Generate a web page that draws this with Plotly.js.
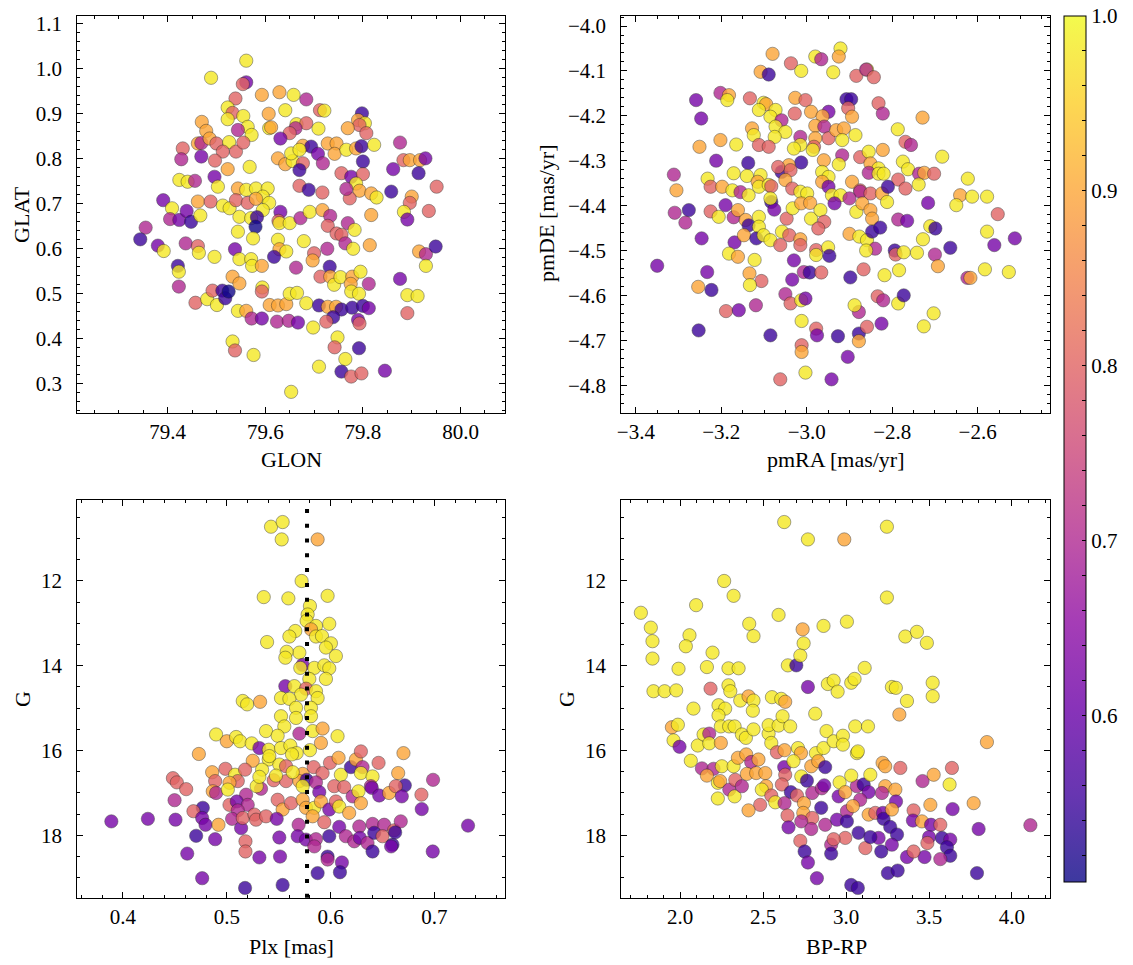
<!DOCTYPE html>
<html><head><meta charset="utf-8">
<script src="https://cdn.plot.ly/plotly-3.0.1.min.js"></script>
<style>html,body{margin:0;padding:0;background:#fff}#chart{width:1133px;height:965px}</style>
</head><body><div id="chart"></div>
<script>
// ---------- Panel 1: GLON vs GLAT ----------
const glon = [
79.561,79.489,79.561,79.554,79.593,79.629,79.658,79.684,79.539,79.523,
79.533,79.555,79.523,79.564,79.572,79.470,79.479,79.544,79.607,79.641,
79.608,79.612,79.664,79.684,79.712,79.721,79.709,79.662,79.650,79.631,
79.798,79.790,79.804,79.793,79.769,79.807,79.462,79.469,79.486,79.500,
79.526,79.540,79.555,79.513,79.431,79.428,79.469,79.497,79.523,79.568,
79.677,79.694,79.708,79.718,79.728,79.746,79.742,79.766,79.786,79.797,
79.823,79.626,79.641,79.656,79.653,79.670,79.677,79.670,79.800,79.876,
79.883,79.896,79.917,79.928,79.862,79.914,79.951,79.424,79.441,79.456,
79.496,79.503,79.756,79.776,79.800,79.786,79.793,79.773,79.766,79.817,
79.828,79.858,79.900,79.896,79.544,79.561,79.581,79.605,79.595,79.670,
79.689,79.717,79.391,79.409,79.405,79.424,79.439,79.448,79.467,79.462,
79.488,79.513,79.527,79.540,79.564,79.581,79.608,79.595,79.547,79.571,
79.583,79.580,79.631,79.627,79.629,79.650,79.672,79.691,79.717,79.733,
79.728,79.769,79.783,79.746,79.756,79.764,79.780,79.814,79.817,79.884,
79.891,79.935,79.355,79.344,79.380,79.392,79.437,79.462,79.464,79.496,
79.544,79.575,79.538,79.547,79.571,79.573,79.593,79.626,79.629,79.643,
79.618,79.679,79.700,79.697,79.663,79.727,79.732,79.713,79.733,79.741,
79.754,79.778,79.775,79.795,79.776,79.792,79.812,79.421,79.423,79.423,
79.457,79.481,79.492,79.501,79.512,79.518,79.525,79.533,79.547,79.594,
79.593,79.544,79.561,79.572,79.593,79.609,79.626,79.643,79.650,79.665,
79.624,79.648,79.667,79.684,79.698,79.710,79.728,79.745,79.756,79.739,
79.725,79.778,79.800,79.812,79.790,79.793,79.891,79.876,79.891,79.912,
79.915,79.929,79.949,79.929,79.533,79.538,79.576,79.748,79.742,79.792,
79.764,79.710,79.756,79.776,79.797,79.845,79.653];
const glat = [
1.017,0.979,0.969,0.965,0.941,0.947,0.941,0.931,0.933,0.913,
0.901,0.894,0.887,0.870,0.852,0.881,0.861,0.863,0.899,0.907,
0.867,0.869,0.876,0.878,0.907,0.906,0.866,0.867,0.856,0.844,
0.900,0.885,0.878,0.874,0.867,0.856,0.833,0.834,0.844,0.833,
0.836,0.815,0.835,0.815,0.822,0.798,0.804,0.795,0.776,0.781,
0.828,0.826,0.810,0.789,0.833,0.833,0.810,0.819,0.822,0.827,
0.830,0.800,0.787,0.794,0.811,0.819,0.789,0.774,0.793,0.835,
0.796,0.796,0.796,0.800,0.776,0.767,0.737,0.752,0.748,0.750,
0.759,0.737,0.767,0.759,0.765,0.744,0.728,0.711,0.732,0.722,
0.713,0.726,0.715,0.701,0.733,0.730,0.733,0.733,0.715,0.739,
0.730,0.724,0.707,0.689,0.665,0.663,0.683,0.659,0.673,0.704,
0.704,0.695,0.689,0.707,0.701,0.710,0.701,0.685,0.670,0.667,
0.669,0.648,0.681,0.661,0.656,0.656,0.667,0.681,0.685,0.672,
0.650,0.656,0.641,0.633,0.630,0.611,0.599,0.607,0.674,0.681,
0.664,0.683,0.646,0.620,0.606,0.594,0.611,0.605,0.590,0.581,
0.637,0.622,0.598,0.576,0.576,0.561,0.561,0.619,0.598,0.593,
0.581,0.616,0.589,0.573,0.557,0.599,0.559,0.537,0.537,0.519,
0.536,0.537,0.521,0.548,0.504,0.499,0.521,0.561,0.548,0.515,
0.479,0.487,0.506,0.474,0.506,0.489,0.504,0.537,0.522,0.513,
0.504,0.461,0.461,0.444,0.444,0.474,0.473,0.476,0.499,0.501,
0.437,0.439,0.435,0.478,0.424,0.473,0.470,0.470,0.464,0.447,
0.437,0.468,0.472,0.467,0.441,0.433,0.456,0.532,0.496,0.494,
0.593,0.587,0.604,0.561,0.393,0.373,0.363,0.402,0.380,0.378,
0.354,0.337,0.326,0.315,0.322,0.328,0.281];
const prob1 = [
.98,.98,.62,.8,.9,.9,.98,.7,.8,.98,
.8,.98,.98,.98,.98,.9,.9,.7,.9,.98,
.98,.9,.98,.8,.8,.98,.98,.7,.8,.62,
.55,.9,.98,.8,.9,.8,.9,.7,.9,.8,
.98,.8,.8,.8,.8,.7,.62,.8,.9,.98,
.9,.55,.62,.7,.9,.9,.9,.98,.9,.55,
.98,.9,.9,.98,.98,.98,.8,.55,.55,.7,
.8,.9,.9,.62,.62,.55,.8,.98,.98,.7,
.62,.98,.8,.62,.8,.98,.9,.8,.7,.9,
.98,.55,.9,.8,.9,.98,.98,.98,.98,.8,
.55,.8,.62,.98,.7,.62,.62,.55,.98,.9,
.8,.98,.98,.8,.8,.9,.98,.98,.98,.98,
.55,.51,.62,.8,.98,.98,.7,.98,.9,.7,
.8,.7,.98,.8,.8,.7,.98,.9,.9,.98,
.62,.8,.7,.55,.62,.98,.7,.8,.98,.98,
.98,.98,.62,.98,.98,.98,.9,.98,.9,.98,
.55,.98,.8,.9,.7,.7,.55,.8,.9,.98,
.98,.9,.9,.98,.98,.98,.7,.55,.98,.7,
.8,.98,.8,.98,.55,.55,.51,.9,.9,.98,
.8,.98,.9,.7,.62,.9,.9,.9,.98,.98,
.7,.7,.62,.98,.98,.55,.9,.9,.55,.55,
.8,.55,.55,.62,.62,.8,.8,.62,.98,.98,
.9,.7,.55,.98,.98,.8,.98,.98,.8,.55,
.98,.98,.55,.8,.8,.62,.98];

// ---------- Panel 2: pmRA vs pmDE ----------
const pmra = [
-2.921,-2.925,-2.980,-2.966,-3.080,-3.037,-3.013,-2.938,-3.108,-3.089,
-2.884,-2.859,-2.861,-2.843,-3.259,-3.202,-3.182,-3.186,-3.247,-3.133,
-3.101,-3.095,-3.073,-3.112,-3.085,-3.059,-3.027,-3.003,-2.990,-3.028,
-2.949,-2.963,-2.907,-2.896,-2.903,-2.894,-2.832,-2.822,-2.729,-2.787,
-3.128,-3.124,-3.073,-3.050,-3.075,-3.015,-3.015,-2.980,-2.959,-2.949,
-2.980,-2.931,-2.913,-2.917,-2.886,-3.251,-3.202,-3.165,-3.112,-3.089,
-3.030,-2.983,-2.986,-2.917,-2.875,-2.855,-2.822,-2.769,-2.756,-2.683,
-3.212,-3.137,-3.013,-2.960,-2.925,-2.851,-2.832,-2.775,-2.763,-3.311,
-3.305,-3.232,-3.171,-3.140,-3.108,-3.059,-3.042,-3.038,-3.067,-2.964,
-2.949,-2.964,-2.855,-2.832,-2.820,-2.737,-2.725,-2.702,-2.786,-2.769,
-2.738,-2.623,-3.225,-3.198,-3.174,-3.155,-3.136,-3.115,-3.112,-3.089,
-3.083,-3.050,-3.034,-3.015,-2.999,-2.949,-2.941,-2.921,-2.894,-2.875,
-2.875,-2.851,-2.824,-2.810,-2.812,-2.641,-2.613,-2.578,-2.650,-2.553,
-2.716,-3.309,-3.276,-3.284,-3.225,-3.206,-3.190,-3.171,-3.161,-3.143,
-3.136,-3.112,-3.112,-3.083,-3.076,-3.085,-3.047,-3.033,-3.013,-2.992,
-2.990,-2.968,-2.959,-2.973,-2.935,-2.900,-2.884,-2.870,-2.851,-2.847,
-2.786,-2.765,-2.711,-2.699,-2.578,-2.561,-2.513,-3.246,-3.169,-3.182,
-3.161,-3.147,-3.118,-3.101,-3.085,-3.058,-3.041,-3.015,-3.015,-3.062,
-2.978,-2.978,-2.950,-2.947,-2.900,-2.877,-2.859,-2.847,-2.828,-2.840,
-2.861,-2.794,-2.792,-2.773,-2.742,-2.728,-2.700,-2.664,-3.350,-3.233,
-3.223,-3.254,-3.189,-3.159,-3.119,-3.253,-3.134,-3.122,-3.106,-3.133,
-3.030,-3.034,-3.007,-2.993,-2.966,-3.050,-3.038,-3.013,-3.003,-3.012,
-2.978,-2.976,-3.085,-2.927,-2.878,-2.878,-2.859,-2.825,-2.878,-2.888,
-2.898,-2.867,-2.818,-2.784,-2.834,-2.821,-2.786,-2.773,-2.703,-2.726,
-2.693,-2.624,-2.617,-2.583,-2.527,-3.012,-3.012,-2.904,-3.003,-3.062,
-2.942];
const pmde = [
-4.050,-4.068,-4.068,-4.074,-4.062,-4.083,-4.100,-4.103,-4.102,-4.108,
-4.111,-4.097,-4.097,-4.114,-4.165,-4.149,-4.154,-4.165,-4.206,-4.161,
-4.171,-4.174,-4.187,-4.187,-4.202,-4.210,-4.160,-4.165,-4.191,-4.195,
-4.191,-4.201,-4.163,-4.163,-4.183,-4.202,-4.172,-4.195,-4.204,-4.230,
-4.228,-4.243,-4.224,-4.236,-4.247,-4.247,-4.265,-4.222,-4.224,-4.250,
-4.250,-4.232,-4.228,-4.254,-4.243,-4.269,-4.254,-4.264,-4.265,-4.269,
-4.273,-4.269,-4.276,-4.288,-4.292,-4.280,-4.276,-4.258,-4.265,-4.291,
-4.300,-4.305,-4.304,-4.299,-4.308,-4.306,-4.317,-4.302,-4.319,-4.331,
-4.366,-4.340,-4.328,-4.334,-4.332,-4.325,-4.310,-4.321,-4.314,-4.325,
-4.336,-4.347,-4.327,-4.329,-4.329,-4.329,-4.327,-4.329,-4.342,-4.362,
-4.353,-4.340,-4.358,-4.358,-4.366,-4.370,-4.377,-4.347,-4.358,-4.354,
-4.357,-4.343,-4.362,-4.369,-4.373,-4.358,-4.377,-4.377,-4.347,-4.366,
-4.369,-4.373,-4.373,-4.358,-4.392,-4.377,-4.380,-4.380,-4.399,-4.419,
-4.394,-4.416,-4.410,-4.438,-4.413,-4.425,-4.399,-4.426,-4.410,-4.432,
-4.444,-4.425,-4.447,-4.392,-4.409,-4.384,-4.429,-4.406,-4.395,-4.394,
-4.429,-4.410,-4.436,-4.451,-4.395,-4.384,-4.414,-4.395,-4.410,-4.429,
-4.431,-4.434,-4.446,-4.451,-4.458,-4.488,-4.473,-4.473,-4.482,-4.507,
-4.514,-4.466,-4.473,-4.466,-4.477,-4.458,-4.466,-4.475,-4.488,-4.488,
-4.499,-4.510,-4.493,-4.512,-4.463,-4.469,-4.477,-4.458,-4.449,-4.496,
-4.500,-4.500,-4.509,-4.504,-4.505,-4.475,-4.509,-4.494,-4.534,-4.548,
-4.588,-4.581,-4.635,-4.633,-4.622,-4.678,-4.551,-4.521,-4.568,-4.577,
-4.522,-4.565,-4.548,-4.549,-4.549,-4.597,-4.618,-4.611,-4.607,-4.657,
-4.674,-4.689,-4.689,-4.691,-4.685,-4.702,-4.670,-4.663,-4.637,-4.622,
-4.560,-4.542,-4.555,-4.544,-4.602,-4.611,-4.618,-4.600,-4.640,-4.669,
-4.535,-4.561,-4.561,-4.542,-4.548,-4.711,-4.726,-4.737,-4.772,-4.787,
-4.787];
const prob2 = [
.98,.9,.98,.7,.9,.8,.98,.98,.9,.55,
.8,.98,.7,.8,.62,.7,.9,.98,.62,.8,
.98,.9,.98,.98,.98,.7,.9,.8,.9,.8,
.62,.9,.55,.55,.8,.9,.8,.7,.9,.98,
.9,.98,.98,.98,.98,.7,.98,.9,.7,.8,
.9,.9,.9,.98,.98,.9,.9,.98,.8,.8,
.98,.8,.98,.7,.8,.98,.9,.8,.7,.98,
.62,.55,.55,.9,.98,.9,.98,.98,.98,.7,
.9,.98,.98,.98,.98,.55,.9,.8,.8,.98,
.98,.9,.7,.98,.98,.7,.9,.8,.8,.8,
.98,.98,.8,.9,.98,.7,.98,.9,.98,.98,
.8,.9,.8,.98,.98,.62,.98,.98,.9,.8,
.7,.8,.9,.55,.98,.9,.98,.98,.98,.8,
.62,.7,.55,.7,.8,.98,.62,.7,.9,.9,
.55,.98,.98,.55,.62,.98,.8,.98,.9,.9,
.98,.98,.8,.8,.62,.7,.98,.9,.9,.9,
.7,.62,.98,.55,.98,.62,.62,.62,.62,.98,
.9,.9,.55,.98,.98,.98,.8,.9,.8,.8,
.8,.98,.98,.55,.9,.98,.98,.55,.55,.7,
.98,.55,.8,.98,.98,.98,.7,.55,.62,.62,
.55,.9,.8,.62,.7,.55,.9,.98,.8,.98,
.62,.62,.7,.55,.8,.7,.8,.98,.62,.98,
.8,.62,.55,.55,.55,.9,.8,.62,.7,.98,
.55,.8,.98,.98,.8,.7,.98,.55,.98,.98,
.9,.7,.9,.98,.98,.8,.9,.62,.98,.8,
.62];

// ---------- Panel 3: Plx vs G ----------
const plx = [
0.5426,0.5538,0.5529,0.5875,0.5721,0.5356,0.5593,0.5971,0.5801,0.5779,
0.5769,0.5859,0.5987,0.5811,0.5660,0.5603,0.5859,0.5917,0.5388,0.6003,
0.5955,0.5699,0.5577,0.5564,0.6051,0.5731,0.5708,0.5843,0.5939,0.5987,
0.5795,0.5955,0.5564,0.5651,0.5763,0.5859,0.5715,0.5875,0.5522,0.5603,
0.5154,0.5196,0.5321,0.5667,0.5811,0.5522,0.5667,0.5811,0.5554,0.5378,
0.5490,0.5699,0.5827,0.5923,0.5907,0.6067,0.4897,0.5000,0.5090,0.5128,
0.5240,0.5314,0.5404,0.5522,0.5612,0.5673,0.5801,0.4731,0.5250,0.5404,
0.5340,0.5506,0.5571,0.5731,0.5837,0.5923,0.5994,0.6077,0.6099,0.6196,
0.6244,0.6292,0.6308,0.6292,0.6404,0.6462,0.6702,0.6651,0.6715,0.6987,
0.4481,0.4519,0.4609,0.4497,0.4859,0.4987,0.4888,0.5080,0.5176,0.5106,
0.5026,0.4865,0.4897,0.5010,0.5186,0.5330,0.5288,0.5452,0.5571,0.5699,
0.5769,0.5859,0.5891,0.6035,0.6131,0.6212,0.6269,0.6388,0.6397,0.6468,
0.6564,0.6628,0.6686,0.6875,0.6878,0.4769,0.4679,0.4763,0.4795,0.4920,
0.5026,0.5096,0.5202,0.5106,0.5051,0.5138,0.5154,0.5266,0.5282,0.5378,
0.5490,0.5538,0.5619,0.5481,0.5731,0.5763,0.5843,0.5907,0.5827,0.5987,
0.5939,0.6051,0.6083,0.6179,0.6292,0.6276,0.6083,0.6404,0.6516,0.6612,
0.6676,0.3888,0.4240,0.4506,0.4705,0.4888,0.4619,0.4763,0.5180,0.5180,
0.5314,0.5176,0.5506,0.5513,0.5538,0.5692,0.5683,0.5763,0.5859,0.5843,
0.5987,0.5971,0.5971,0.6109,0.5875,0.6090,0.6147,0.6228,0.6282,0.6356,
0.6420,0.6500,0.6404,0.6596,0.6622,0.6583,0.6984,0.7324,0.5314,0.5731,
0.5410,0.5474,0.5635,0.5628];
const gmag3 = [
10.72,10.61,11.02,11.02,12.00,12.38,12.41,12.35,12.59,12.79,
12.94,13.06,13.01,13.14,13.18,13.31,13.31,13.30,13.44,13.47,
13.57,13.69,13.67,13.81,13.77,13.98,14.05,14.05,13.99,14.06,
14.31,14.31,14.48,14.48,14.54,14.60,14.68,14.76,14.76,14.78,
14.83,14.91,14.85,14.99,14.99,15.19,15.23,15.19,15.43,15.54,
15.65,15.60,15.54,15.48,15.82,15.66,15.62,15.78,15.68,15.78,
15.83,15.94,15.98,15.94,15.88,16.06,15.99,16.08,16.24,16.21,
16.45,16.33,16.37,16.55,16.39,16.53,16.29,16.17,16.57,16.39,
16.21,16.02,16.39,16.53,16.61,16.29,16.06,16.53,16.82,16.69,
16.65,16.75,16.91,17.17,16.51,16.43,16.72,16.57,16.45,16.72,
16.76,16.96,17.00,16.92,17.04,16.90,16.84,16.70,16.72,16.72,
16.69,16.75,16.98,16.84,16.86,17.08,16.96,16.84,16.88,17.06,
17.00,16.84,17.08,17.04,17.38,17.35,17.43,17.59,17.75,17.75,
17.28,17.20,17.28,17.41,17.61,17.83,17.59,17.51,17.63,17.55,
17.16,17.39,17.24,17.61,17.16,17.35,17.35,17.20,17.55,17.39,
17.69,17.20,17.32,17.47,17.24,17.79,17.80,17.73,17.75,17.88,
17.67,17.67,17.61,17.63,18.01,18.09,18.43,19.01,18.14,18.38,
18.52,19.24,18.05,18.50,19.17,17.75,18.02,18.10,18.09,18.26,
18.02,18.50,18.57,18.64,18.89,18.87,18.02,18.14,18.06,18.18,
17.94,18.02,18.38,18.22,17.93,18.26,18.38,17.77,16.62,16.84,
16.13,16.59,16.51,16.09];
const prob3 = [
.98,.98,.98,.9,.98,.98,.98,.98,.98,.98,
.98,.98,.98,.9,.98,.98,.98,.98,.98,.98,
.98,.98,.98,.98,.98,.62,.98,.98,.98,.98,
.98,.98,.62,.98,.8,.98,.98,.98,.98,.98,
.98,.98,.9,.98,.98,.98,.98,.98,.98,.98,
.98,.7,.98,.9,.9,.98,.98,.9,.98,.98,
.98,.62,.98,.98,.98,.98,.98,.9,.9,.98,
.98,.98,.8,.9,.8,.8,.8,.9,.98,.55,
.9,.8,.7,.98,.98,.8,.9,.9,.55,.7,
.8,.8,.8,.7,.9,.8,.8,.98,.8,.8,
.9,.9,.7,.98,.7,.7,.98,.8,.8,.9,
.55,.7,.62,.8,.8,.7,.98,.7,.62,.62,
.9,.8,.62,.8,.62,.55,.8,.62,.62,.9,
.8,.62,.7,.7,.7,.62,.8,.8,.8,.8,
.8,.9,.8,.62,.9,.9,.98,.9,.9,.62,
.8,.8,.98,.9,.9,.7,.62,.7,.7,.8,
.7,.62,.62,.62,.55,.62,.62,.62,.8,.8,
.62,.55,.62,.62,.55,.7,.62,.62,.7,.7,
.55,.55,.7,.62,.55,.55,.7,.7,.62,.7,
.55,.8,.55,.55,.55,.62,.62,.62,.98,.98,
.98,.98,.98,.98];
const plxCut = 0.5773;

// ---------- Panel 4: BP-RP vs G ----------
const bprp = [
2.627,3.246,2.770,2.989,2.265,2.322,3.246,2.096,1.763,1.823,
1.833,1.833,2.056,2.034,2.416,2.442,2.593,2.738,2.744,2.864,
3.005,3.357,3.427,3.487,2.195,1.990,2.161,2.291,2.352,2.649,
2.700,2.724,2.770,1.839,1.906,1.976,2.183,2.291,2.302,2.080,
2.231,2.271,2.362,2.412,2.442,2.438,2.553,2.609,2.633,2.814,
2.890,2.925,2.949,3.031,3.051,3.112,3.276,3.300,3.367,3.321,
3.522,3.522,2.231,1.950,1.986,1.960,1.996,2.064,2.106,2.141,
2.175,2.175,2.245,2.245,2.295,2.328,2.372,2.396,2.442,2.533,
2.533,2.593,2.617,2.663,2.549,2.583,2.629,2.710,2.728,2.818,
2.864,2.882,2.925,2.981,2.981,3.055,3.132,3.065,3.071,3.849,
2.131,2.201,2.161,2.251,2.227,2.241,2.227,2.296,2.328,2.332,
2.372,2.322,2.348,2.398,2.428,2.402,2.472,2.458,2.513,2.518,
2.492,2.482,2.412,2.549,2.573,2.627,2.633,2.613,2.667,2.629,
2.647,2.653,2.730,2.764,2.790,2.832,2.874,2.704,2.746,2.742,
2.796,2.796,2.850,2.854,2.868,2.874,2.730,2.790,2.724,2.750,
2.770,2.824,2.910,2.910,2.961,2.955,2.945,2.995,3.005,3.005,
2.995,3.065,3.106,3.136,3.085,3.031,3.075,3.116,3.031,3.071,
3.146,3.136,3.176,3.220,3.236,3.236,3.216,3.222,3.226,3.297,
3.301,3.276,3.266,3.307,3.196,3.146,3.276,3.212,3.252,3.311,
3.327,3.407,3.403,3.457,3.461,3.528,3.508,3.512,3.568,3.500,
3.490,3.578,3.628,3.608,3.628,3.638,3.624,3.642,3.769,3.799,
4.111,3.789,3.473,3.568,3.367,3.407,2.925,3.041,2.683];
const gmag4 = [
10.61,10.72,11.02,11.02,12.00,12.35,12.39,12.57,12.75,13.10,
13.42,13.83,13.28,13.54,13.01,13.30,12.80,13.14,13.47,13.06,
12.96,13.31,13.20,13.46,13.69,14.07,14.03,14.06,14.06,13.99,
13.99,13.76,14.50,14.60,14.60,14.58,14.54,14.46,14.60,15.01,
14.93,15.01,14.82,14.72,14.82,15.06,14.74,14.78,14.85,15.13,
14.43,14.35,14.61,14.40,14.31,14.05,14.50,14.52,14.83,15.15,
14.40,14.72,15.17,15.45,15.39,15.76,15.91,16.24,15.88,15.62,
15.60,15.83,15.43,15.82,15.43,15.43,15.62,15.70,15.50,15.60,
15.40,15.41,15.19,15.43,15.82,16.04,15.99,15.94,16.06,16.06,
15.94,15.54,15.78,15.65,15.86,15.43,15.43,16.06,16.02,15.80,
16.42,16.43,16.59,16.37,16.76,16.72,17.13,16.92,17.08,16.69,
16.84,16.37,16.17,16.09,16.27,16.55,16.21,16.53,16.53,16.84,
16.92,17.28,17.41,17.06,17.22,16.39,16.57,16.80,16.98,17.24,
17.53,17.81,16.61,16.71,16.37,16.25,16.39,17.06,17.24,17.47,
17.00,17.59,17.35,16.89,16.82,17.75,17.67,17.85,18.13,18.38,
18.64,19.01,18.22,18.43,16.75,17.08,17.63,16.98,17.43,17.67,
18.06,16.84,16.80,16.98,17.16,16.59,17.94,18.30,19.17,19.24,
16.57,17.51,17.47,16.29,16.37,16.84,17.00,17.47,17.61,16.92,
17.20,17.39,17.80,17.98,18.06,18.04,18.22,18.38,18.89,18.83,
16.41,17.41,17.65,17.67,16.72,16.57,17.28,17.75,17.75,18.04,
18.18,18.06,18.10,18.28,18.48,16.41,16.80,17.38,17.24,17.85,
17.76,18.89,18.51,18.56,18.51,18.38,18.09,17.31,16.25];
const prob4 = [
.98,.98,.98,.9,.98,.98,.98,.98,.98,.98,
.98,.98,.98,.98,.98,.98,.98,.9,.98,.98,
.98,.98,.98,.98,.98,.98,.98,.98,.98,.98,
.55,.98,.62,.98,.98,.98,.8,.98,.98,.98,
.98,.98,.98,.9,.98,.98,.98,.98,.9,.98,
.98,.98,.98,.98,.98,.98,.98,.98,.98,.9,
.98,.98,.98,.9,.98,.98,.62,.98,.98,.98,
.7,.98,.98,.9,.98,.98,.98,.98,.98,.98,
.98,.98,.98,.98,.98,.8,.9,.98,.9,.98,
.98,.98,.98,.98,.98,.98,.98,.98,.98,.9,
.7,.7,.9,.98,.98,.9,.98,.7,.98,.8,
.7,.98,.9,.9,.7,.9,.9,.9,.9,.9,
.98,.8,.9,.8,.98,.62,.8,.8,.55,.7,
.8,.62,.98,.55,.9,.9,.55,.8,.9,.9,
.7,.8,.55,.7,.62,.7,.7,.7,.8,.55,
.62,.62,.7,.55,.98,.62,.62,.9,.7,.55,
.8,.7,.55,.62,.7,.98,.55,.8,.55,.55,
.98,.9,.8,.9,.9,.9,.7,.62,.55,.9,
.62,.9,.55,.55,.62,.55,.62,.55,.55,.55,
.8,.8,.62,.9,.7,.9,.9,.62,.8,.62,
.8,.55,.62,.55,.55,.8,.98,.62,.9,.62,
.7,.55,.62,.7,.62,.8,.8,.9,.98];

// colour scale range and labels
const probMin = 0.505, probMax = 1.0;
const cbLabels = [0.6, 0.7, 0.8, 0.9, 1.0];

// ---------- styling ----------
const FONT = '"Liberation Serif", "Times New Roman", serif';
const plasma = [[0.0,'#0d0887'],[0.1,'#41049d'],[0.2,'#6a00a8'],[0.3,'#8f0da4'],[0.4,'#b12a90'],
  [0.5,'#cc4778'],[0.6,'#e16462'],[0.7,'#f2844b'],[0.8,'#fca636'],[0.9,'#fcce25'],[1.0,'#f0f921']];
function blend(hex, a) {
  const n = parseInt(hex.slice(1), 16);
  const r = (n >> 16) & 255, g = (n >> 8) & 255, b = n & 255;
  const f = v => Math.round(v * a + 255 * (1 - a));
  return `rgb(${f(r)},${f(g)},${f(b)})`;
}
const plasmaAlpha = plasma.map(([s, c]) => [s, blend(c, 0.8)]);

function mk(c) {
  return {color: c, colorscale: plasma, cmin: probMin, cmax: probMax, size: 13.3,
          opacity: 0.8, line: {width: 0.5, color: '#202020'}};
}
function sc(x, y, c, xa, ya) {
  return {type: 'scatter', mode: 'markers', x: x, y: y, xaxis: xa, yaxis: ya,
          marker: mk(c), hoverinfo: 'skip', showlegend: false};
}

// colorbar ticks (minor every 0.02)
const cbVals = [], cbText = [];
for (let i = 26; i <= 50; i++) {
  const v = +(i * 0.02).toFixed(2);
  cbVals.push(v);
  cbText.push(cbLabels.some(l => Math.abs(l - v) < 1e-6) ? v.toFixed(1) : '');
}

const data = [
  sc(glon, glat, prob1, 'x', 'y'),
  sc(pmra, pmde, prob2, 'x2', 'y2'),
  sc(plx, gmag3, prob3, 'x3', 'y3'),
  sc(bprp, gmag4, prob4, 'x4', 'y4'),
  {type: 'scatter', mode: 'markers', x: glon, y: glat, xaxis: 'x', yaxis: 'y',
   hoverinfo: 'skip', showlegend: false,
   marker: {color: prob1, colorscale: plasmaAlpha, cmin: probMin, cmax: probMax, opacity: 0, size: 1,
     showscale: true,
     colorbar: {thickness: 21.7, thicknessmode: 'pixels', len: 866.3/965, lenmode: 'fraction',
       x: 1064.3/1133, xanchor: 'left', xpad: 0, y: 1 - 15.7/965, yanchor: 'top', ypad: 0,
       outlinewidth: 1, outlinecolor: '#000', borderwidth: 0,
       tickmode: 'array', tickvals: cbVals, ticktext: cbText,
       ticks: 'inside', ticklen: 4, tickwidth: 1, tickcolor: '#000',
       tickfont: {family: FONT, size: 21, color: '#000'}}}}
];

const W = 1133, H = 965;
const xdL = [77.3/W, 505/W], xdR = [621.3/W, 1050.3/W];
const ydT = [1 - 413/H, 1 - 15.7/H], ydB = [1 - 897.7/H, 1 - 500/H];

function ax(domain, range, dtick, mdtick, fmt, anchor, isY) {
  return {domain: domain, range: range, anchor: anchor, autorange: false,
    tickmode: 'linear', tick0: 0, dtick: dtick, tickformat: fmt,
    ticks: 'inside', ticklen: 6, tickwidth: 1, tickcolor: '#000',
    minor: {ticks: 'inside', ticklen: 3, tickwidth: 1, tickcolor: '#000', dtick: mdtick, tick0: 0, showgrid: false},
    showline: true, linecolor: '#000', linewidth: 1, mirror: 'allticks',
    showgrid: false, zeroline: false,
    ticklabelstandoff: isY ? 10 : 0,
    tickfont: {family: FONT, size: 21, color: '#000'}};
}

function title(text, xpx, ypx, rot) {
  return {text: text, xref: 'paper', yref: 'paper', x: xpx / W, y: 1 - ypx / H,
    xanchor: 'center', yanchor: 'middle', showarrow: false, textangle: rot || 0,
    font: {family: FONT, size: 22, color: '#000'}};
}

const layout = {
  width: W, height: H, margin: {l: 0, r: 0, t: 0, b: 0},
  paper_bgcolor: '#fff', plot_bgcolor: '#fff', hovermode: false, showlegend: false,
  xaxis:  ax(xdL, [79.215, 80.091], 0.2, 0.05, '.1f', 'y', false),
  yaxis:  ax(ydT, [0.234, 1.117], 0.1, 0.02, '.1f', 'x', true),
  xaxis2: ax(xdR, [-3.434, -2.430], 0.2, 0.05, '.1f', 'y2', false),
  yaxis2: ax(ydT, [-4.862, -3.977], 0.1, 0.02, '.1f', 'x2', true),
  xaxis3: ax(xdL, [0.356, 0.768], 0.1, 0.02, '.1f', 'y3', false),
  yaxis3: ax(ydB, [19.47, 10.09], 2, 0.5, 'd', 'x3', true),
  xaxis4: ax(xdR, [1.645, 4.231], 0.5, 0.1, '.1f', 'y4', false),
  yaxis4: ax(ydB, [19.47, 10.09], 2, 0.5, 'd', 'x4', true),
  shapes: [{type: 'line', xref: 'x3', yref: 'y3 domain', x0: plxCut, x1: plxCut, y0: 0, y1: 1,
    line: {color: '#000', width: 4, dash: '4px,10.8px'}, layer: 'above'}],
  annotations: [
    title('GLON', 291, 459),
    title('pmRA [mas/yr]', 836, 459),
    title('Plx [mas]', 291, 946),
    title('BP-RP', 836, 946),
    title('GLAT', 22, 214, -90),
    title('pmDE [mas/yr]', 547, 214, -90),
    title('G', 22, 699, -90),
    title('G', 566, 699, -90)
  ]
};

Plotly.newPlot('chart', data, layout, {staticPlot: true, displayModeBar: false});
</script>
</body></html>
